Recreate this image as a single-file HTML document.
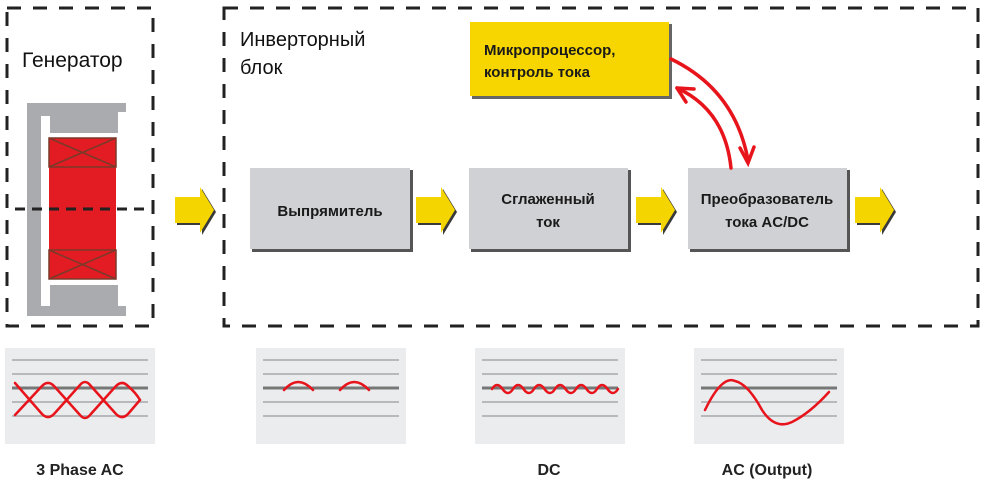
<!DOCTYPE html>
<html><head><meta charset="utf-8"><style>
html,body{margin:0;padding:0;background:#fff}
svg{display:block}
text{font-family:"Liberation Sans","Noto Sans CJK SC",sans-serif}
</style></head><body>
<svg width="992" height="500" viewBox="0 0 992 500" xmlns="http://www.w3.org/2000/svg">
<defs>
<g id="arr"><polygon points="0,10 25,10 25,0 39,23 25,46 25,36 0,36" fill="#3a3a3a" transform="translate(2,2)"/><polygon points="0,10 25,10 25,0 39,23 25,46 25,36 0,36" fill="#f5d500"/></g>
</defs>
<rect x="7" y="8" width="146" height="318" fill="none" stroke="#222" stroke-width="3" stroke-dasharray="14,12"/>
<rect x="224" y="8" width="754" height="318" fill="none" stroke="#222" stroke-width="3" stroke-dasharray="14,12"/>
<text x="22" y="67" font-size="21" fill="#111">Генератор</text>
<text x="240" y="46" font-size="20" fill="#111">Инверторный</text>
<text x="240" y="74" font-size="20" fill="#111">блок</text>
<path d="M27,103 H126 V112 H118 V133 H50 V116 H41 V306 H50 V285 H118 V306 H126 V316 H27 Z" fill="#a9abae"/>
<rect x="49" y="138" width="67" height="141" fill="#e31b23"/>
<g stroke="#7a3a2a" stroke-width="1.5" fill="none">
<rect x="49" y="138" width="67" height="29"/><path d="M49,138 L116,167 M116,138 L49,167"/>
<rect x="49" y="250" width="67" height="29"/><path d="M49,250 L116,279 M116,250 L49,279"/>
</g>
<line x1="15" y1="209" x2="150" y2="209" stroke="#222" stroke-width="3" stroke-dasharray="10,7"/>
<use href="#arr" x="175" y="187"/>
<use href="#arr" x="416" y="187"/>
<use href="#arr" x="636" y="187"/>
<use href="#arr" x="855" y="187"/>
<g>
<rect x="252" y="170" width="161" height="82" fill="#555"/>
<rect x="250" y="168" width="160" height="81" fill="#d0d1d4"/>
<text x="330" y="216" font-size="15" font-weight="bold" text-anchor="middle" fill="#1a1a1a">Выпрямитель</text>
<rect x="471" y="170" width="160" height="82" fill="#555"/>
<rect x="469" y="168" width="159" height="81" fill="#d0d1d4"/>
<text x="548" y="204" font-size="15" font-weight="bold" text-anchor="middle" fill="#1a1a1a">Сглаженный</text>
<text x="548" y="227" font-size="15" font-weight="bold" text-anchor="middle" fill="#1a1a1a">ток</text>
<rect x="690" y="170" width="160" height="82" fill="#555"/>
<rect x="688" y="168" width="159" height="81" fill="#d0d1d4"/>
<text x="767" y="204" font-size="15" font-weight="bold" text-anchor="middle" fill="#1a1a1a">Преобразователь</text>
<text x="767" y="227" font-size="15" font-weight="bold" text-anchor="middle" fill="#1a1a1a">тока AC/DC</text>
<rect x="472" y="24" width="200" height="75" fill="#666"/>
<rect x="470" y="22" width="199" height="74" fill="#f7d600"/>
<text x="484" y="55" font-size="15" font-weight="bold" fill="#1a1a1a">Микропроцессор,</text>
<text x="484" y="77" font-size="15" font-weight="bold" fill="#1a1a1a">контроль тока</text>
</g>
<g stroke="#e8141c" stroke-width="3.5" fill="none" stroke-linecap="round">
<path d="M671,59 Q735,90 748,160"/>
<path d="M740,148 L748,163 L754,147"/>
<path d="M731,168 Q725,110 677,88"/>
<path d="M677,88 L694,89 M677,88 L686,102"/>
</g>
<g id="ch">
<rect x="5" y="348" width="150" height="96" fill="#ebecee"/>
<g stroke="#b8b9bc" stroke-width="2"><line x1="12" y1="360" x2="148" y2="360"/><line x1="12" y1="374" x2="148" y2="374"/><line x1="12" y1="402" x2="148" y2="402"/><line x1="12" y1="416" x2="148" y2="416"/></g>
<line x1="12" y1="388" x2="148" y2="388" stroke="#777" stroke-width="3"/>
</g>
<use href="#ch" x="251"/><use href="#ch" x="470"/><use href="#ch" x="689"/>
<g stroke="#e8141c" stroke-width="2.5" fill="none" stroke-linecap="round" stroke-linejoin="round">
<path d="M15,415 L42,386 Q48,380 54,386 L80,415 Q85,421 90,415 L116,386 Q122,380 128,386 Q136,393 140,400"/>
<path d="M15,383 L42,414 Q48,420 54,414 L80,385 Q85,379 90,385 L116,414 Q122,420 128,414 L140,400"/>
<path d="M284,390 Q298,374 313,390"/>
<path d="M340,390 Q354,374 369,390"/>
<path d="M492,389 q5,-8 10.5,0 t10.5,0 t10.5,0 t10.5,0 t10.5,0 t10.5,0 t10.5,0 t10.5,0 t10.5,0 t10.5,0 t10.5,0 t10.5,0"/>
<path d="M705,410 Q722,375 735,381 Q748,384 762,410 Q775,430 792,422 Q810,413 829,392"/>
</g>
<text x="80" y="475" font-size="16" font-weight="bold" text-anchor="middle" fill="#222">3 Phase AC</text>
<text x="549" y="475" font-size="16" font-weight="bold" text-anchor="middle" fill="#222">DC</text>
<text x="767" y="475" font-size="16" font-weight="bold" text-anchor="middle" fill="#222">AC (Output)</text>
</svg>
</body></html>
